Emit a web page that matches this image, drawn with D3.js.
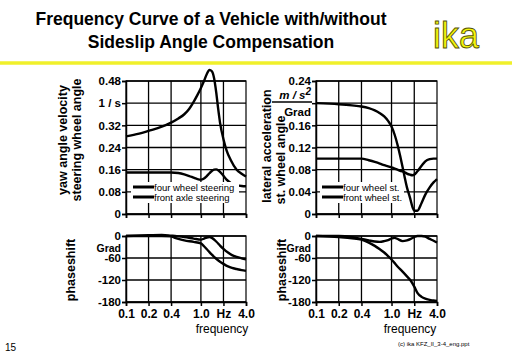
<!DOCTYPE html>
<html><head><meta charset="utf-8">
<script src="https://cdn.jsdelivr.net/npm/d3@7"></script>
<style>html,body{margin:0;padding:0;background:#fff;}svg{display:block;font-family:"Liberation Sans",Arial,sans-serif;}</style>
</head><body>
<svg id="c" width="512" height="354"></svg>
<script>
// ---- data ----
const freqTicks = [0.1, 0.2, 0.4, 1.0, 2.0, 4.0];
const freqTickLabels = ["0.1", "0.2", "0.4", "1.0", "Hz", "4.0"];

// yaw angle velocity / steering wheel angle (1/s)
const yawFreq  = [0.1, 0.15, 0.2, 0.3, 0.4, 0.5, 0.6, 0.7, 0.8, 0.9, 1.0, 1.1, 1.2, 1.3, 1.4, 1.5, 1.6, 1.7, 1.8, 2.0, 2.2, 2.5, 3.0, 3.5, 4.0];
const yawFourWheel = [0.15, 0.15, 0.15, 0.15, 0.15, 0.148, 0.143, 0.137, 0.131, 0.126, 0.124, 0.128, 0.137, 0.147, 0.155, 0.16, 0.161, 0.158, 0.152, 0.138, 0.124, 0.112, 0.104, 0.101, 0.10];
const yawFrontAxle = [0.28, 0.29, 0.30, 0.315, 0.33, 0.345, 0.36, 0.38, 0.405, 0.43, 0.455, 0.48, 0.505, 0.52, 0.515, 0.49, 0.44, 0.38, 0.33, 0.27, 0.23, 0.195, 0.16, 0.145, 0.135];

// lateral acceleration / steering wheel angle (m/s^2 / Grad)
const latFreq = [0.1, 0.2, 0.3, 0.4, 0.5, 0.6, 0.7, 0.8, 0.9, 1.0, 1.1, 1.2, 1.3, 1.4, 1.5, 1.6, 1.75, 1.9, 2.0, 2.2, 2.5, 2.8, 3.2, 3.6, 4.0];
const latFourWheel = [0.20, 0.198, 0.196, 0.194, 0.191, 0.187, 0.182, 0.176, 0.168, 0.158, 0.143, 0.125, 0.105, 0.085, 0.065, 0.048, 0.03, 0.012, 0.006, 0.006, 0.02, 0.035, 0.048, 0.057, 0.063];
const latFrontWheel = [0.10, 0.10, 0.10, 0.10, 0.097, 0.094, 0.091, 0.088, 0.086, 0.084, 0.082, 0.080, 0.078, 0.077, 0.075, 0.073, 0.071, 0.070, 0.071, 0.077, 0.087, 0.095, 0.099, 0.10, 0.10];

// phaseshift (Grad)
const phLFreq = [0.1, 0.2, 0.3, 0.4, 0.45, 0.5, 0.6, 0.8, 1.0, 1.1, 1.2, 1.3, 1.4, 1.6, 1.8, 2.0, 2.3, 2.6, 3.0, 3.5, 4.0];
const phLA = [0, 0, 0, -1, -5, -8, -12, -16, -20, -28, -36, -44, -51, -62, -70, -76, -83, -87, -90, -93, -95];
const phLB = [0, 2, 3, 1, 0, -1, -3, -7, -10, -7, -4, -3, -5, -15, -26, -35, -45, -52, -57, -61, -64];

const phRFreq = [0.1, 0.2, 0.3, 0.4, 0.5, 0.6, 0.7, 0.8, 0.9, 1.0, 1.1, 1.2, 1.4, 1.6, 1.8, 2.0, 2.2, 2.5, 2.8, 3.2, 3.6, 4.0];
const phRA = [0, 0, -3, -8, -12, -15, -16, -14, -11, -7, -5, -8, -14, -12, -8, -3, 0, 0, -2, -8, -13, -18];
const phRB = [0, -3, -6, -10, -18, -27, -36, -45, -55, -64, -74, -83, -97, -110, -122, -138, -155, -166, -171, -174, -176, -177];

const yawTicks = [0, 0.08, 0.16, 0.24, 0.32, 0.40, 0.48];
const yawTickLabels = ["0", "0.08", "0.16", "0.24", "0.32", "1 / s", "0.48"];
const latTicks = [0, 0.04, 0.08, 0.12, 0.16, 0.20, 0.24];
const latTickLabels = ["0", "0.04", "0.08", "0.12", "0.16", "", "0.24"];
const phTicks = [0, -60, -120, -180];
const phTickLabels = ["0", "-60", "-120", "-180"];

// ---- drawing ----
const svg = d3.select("#c");

// title
svg.append("text").attr("x", 211).attr("y", 25).attr("text-anchor", "middle")
  .attr("font-size", 17.5).attr("font-weight", "bold").text("Frequency Curve of a Vehicle with/without");
svg.append("text").attr("x", 211).attr("y", 48).attr("text-anchor", "middle")
  .attr("font-size", 17.5).attr("font-weight", "bold").text("Sideslip Angle Compensation");
svg.append("text").attr("x", 456).attr("y", 48).attr("text-anchor", "middle")
  .attr("font-size", 36).attr("fill", "#f4f40a").attr("stroke", "#55550a").attr("stroke-width", 0.9)
  .text("ika");
svg.append("line").attr("x1", 0).attr("x2", 512).attr("y1", 63).attr("y2", 63)
  .attr("stroke", "#f0f02a").attr("stroke-width", 3.5);

function panel(cfg) {
  const x = d3.scaleLog().domain([0.1, 4]).range(cfg.xr);
  const y = d3.scaleLinear().domain(cfg.yd).range(cfg.yr);
  const yTop = Math.min(...cfg.yr), yBot = Math.max(...cfg.yr);
  const g = svg.append("g");
  // grid
  g.selectAll(".vg").data(freqTicks.slice(1, -1)).enter().append("line")
    .attr("x1", d => x(d)).attr("x2", d => x(d)).attr("y1", yTop).attr("y2", yBot)
    .attr("stroke", "#000").attr("stroke-width", 1.3);
  g.selectAll(".hg").data(cfg.ticks).enter().append("line")
    .attr("x1", cfg.xr[0]).attr("x2", cfg.xr[1]).attr("y1", d => y(d)).attr("y2", d => y(d))
    .attr("stroke", "#000").attr("stroke-width", 1.3);
  // frame
  g.append("rect").attr("x", cfg.xr[0]).attr("y", yTop).attr("width", cfg.xr[1] - cfg.xr[0])
    .attr("height", yBot - yTop).attr("fill", "none").attr("stroke", "#000").attr("stroke-width", 1.2);
  // axes
  const ya = d3.axisLeft(y).tickValues(cfg.ticks).tickSize(4).tickFormat((d, i) => cfg.tickLabels[i]);
  const yg = g.append("g").attr("transform", `translate(${cfg.xr[0]},0)`).call(ya);
  yg.select(".domain").attr("stroke-width", 1.5);
  yg.selectAll("line").attr("stroke-width", 1.5);
  yg.selectAll("text").attr("font-size", 11.5).attr("font-weight", "bold").attr("x", -5)
    .attr("font-family", "'Liberation Sans',Arial,sans-serif");
  const xa = d3.axisBottom(x).tickValues(freqTicks).tickSize(4).tickFormat((d, i) => cfg.showX ? freqTickLabels[i] : "");
  const xg = g.append("g").attr("transform", `translate(0,${yBot})`).call(xa);
  xg.select(".domain").attr("stroke-width", 1.5);
  xg.selectAll("line").attr("stroke-width", 1.5);
  xg.selectAll("text").attr("font-size", 12).attr("font-weight", "bold").attr("y", 7)
    .attr("font-family", "'Liberation Sans',Arial,sans-serif");
  // curves
  const line = d3.line().x(d => x(d[0])).y(d => y(d[1])).curve(d3.curveMonotoneX);
  cfg.series.forEach(s => {
    g.append("path").datum(cfg.freq.map((f, i) => [f, s[i]])).attr("d", line)
      .attr("fill", "none").attr("stroke", "#000").attr("stroke-width", 2.4);
  });
  return {x, y, g};
}

panel({xr: [126, 246], yr: [214, 81], yd: [0, 0.48], ticks: yawTicks, tickLabels: yawTickLabels,
  freq: yawFreq, series: [yawFourWheel, yawFrontAxle], showX: false});
panel({xr: [316, 437], yr: [214, 81], yd: [0, 0.24], ticks: latTicks, tickLabels: latTickLabels,
  freq: latFreq, series: [latFourWheel, latFrontWheel], showX: false});
panel({xr: [126, 246], yr: [236, 302], yd: [0, -180], ticks: phTicks, tickLabels: phTickLabels,
  freq: phLFreq, series: [phLA, phLB], showX: true});
panel({xr: [316, 437], yr: [236, 302], yd: [0, -180], ticks: phTicks, tickLabels: phTickLabels,
  freq: phRFreq, series: [phRA, phRB], showX: true});

// legends
function legend(px, py, w, labels) {
  svg.append("rect").attr("x", px).attr("y", py).attr("width", w).attr("height", 21).attr("fill", "#fff");
  labels.forEach((t, i) => {
    svg.append("line").attr("x1", px + 2).attr("x2", px + 23).attr("y1", py + 5 + i * 10).attr("y2", py + 5 + i * 10)
      .attr("stroke", "#000").attr("stroke-width", 3);
    svg.append("text").attr("x", px + 23).attr("y", py + 8.5 + i * 10).attr("font-size", 9.5).text(t);
  });
}
legend(131, 182, 108, ["four wheel steering", "front axle steering"]);
legend(320, 182, 84, ["four wheel st.", "front wheel st."]);

// extra unit labels
svg.append("text").attr("x", 311).attr("y", 99).attr("text-anchor", "end").attr("font-size", 11.5)
  .attr("font-weight", "bold").attr("font-style", "italic")
  .html('m / s<tspan dy="-4" font-size="10">2</tspan>');
svg.append("line").attr("x1", 272).attr("x2", 312).attr("y1", 102).attr("y2", 102).attr("stroke", "#000").attr("stroke-width", 1.3);
svg.append("text").attr("x", 311).attr("y", 116).attr("text-anchor", "end").attr("font-size", 11.5)
  .attr("font-weight", "bold").text("Grad");
[121, 311].forEach(xx => {
  svg.append("text").attr("x", xx).attr("y", 251.5).attr("text-anchor", "end").attr("font-size", 10.5)
    .attr("font-weight", "bold").text("Grad");
});

// axis titles
function vtext(x, y, t, size) {
  svg.append("text").attr("transform", `translate(${x},${y}) rotate(-90)`).attr("text-anchor", "middle")
    .attr("font-size", size).attr("font-weight", "bold").text(t);
}
vtext(67, 140, "yaw angle velocity", 12.5);
vtext(81, 140, "steering wheel angle", 12.5);
vtext(271, 146, "lateral acceleration", 12.5);
vtext(285, 160, "st. wheel angle", 12.5);
vtext(75, 270, "phaseshift", 12.5);
vtext(286, 270, "phaseshift", 12.5);

svg.append("text").attr("x", 222).attr("y", 333).attr("text-anchor", "middle").attr("font-size", 12).text("frequency");
svg.append("text").attr("x", 410).attr("y", 333).attr("text-anchor", "middle").attr("font-size", 12).text("frequency");

svg.append("text").attr("x", 5).attr("y", 351).attr("font-size", 10).text("15");
svg.append("text").attr("x", 398).attr("y", 346).attr("font-size", 6).text("(c) ika  KFZ_II_3-4_eng.ppt");
</script>
</body></html>
